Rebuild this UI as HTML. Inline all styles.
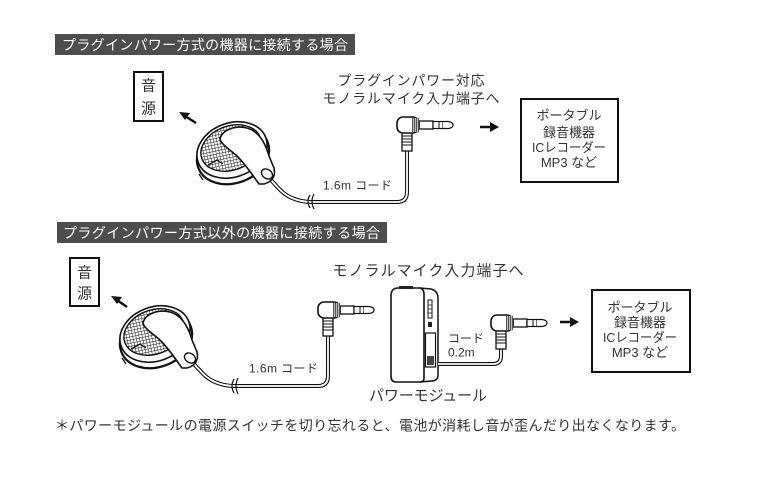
<!DOCTYPE html>
<html><head><meta charset="utf-8"><style>
html,body{margin:0;padding:0;background:#fff;}
svg{display:block;}
text{font-family:"Liberation Sans","Noto Sans CJK JP",sans-serif;}
</style></head><body>
<svg width="767" height="478" viewBox="0 0 767 478" xmlns="http://www.w3.org/2000/svg">
<defs>
<pattern id="grid" width="3.1" height="3.1" patternUnits="userSpaceOnUse" patternTransform="rotate(8)">
<rect width="3.1" height="3.1" fill="#fff"/>
<path d="M0,0 L0,3.1 M0,0 L3.1,0" stroke="#222" stroke-width="1"/>
</pattern>
<g id="mic">
<ellipse cx="156" cy="339" rx="37" ry="28" transform="rotate(-20 156 339)" fill="#fff" stroke="#111" stroke-width="2.2"/>
<path d="M122,358 L126,364" stroke="#111" stroke-width="1.3"/>
<ellipse cx="155" cy="334" rx="36" ry="27" transform="rotate(-20 155 334)" fill="#fff" stroke="#111" stroke-width="1.6"/>
<ellipse cx="154" cy="332" rx="31" ry="22" transform="rotate(-20 154 332)" fill="url(#grid)" stroke="#111" stroke-width="1.4"/>
<path d="M131,349 L140,344 L146,348" fill="none" stroke="#111" stroke-width="1.3"/>
<path d="M143,323 C145,314 158,309 170,312 C181,315 188,326 192,340 L197,352 C199,360 195,366 187,368 L182,368 C176,360 170,350 160,340 C152,333 144,328 143,323 Z" fill="#fff" stroke="#111" stroke-width="1.6"/>
<ellipse cx="190" cy="358" rx="6" ry="4.5" transform="rotate(35 190 358)" fill="#fff" stroke="#111" stroke-width="1.4"/>
</g>
<g id="plug">
<rect x="22" y="4" width="14" height="8" fill="#fff" stroke="#111" stroke-width="1.3"/>
<rect x="36" y="4.5" width="10" height="7" fill="#fff" stroke="#111" stroke-width="1.2"/>
<path d="M46,4.5 L51,4.5 Q56,5 56,8 Q56,11 51,11.5 L46,11.5" fill="#fff" stroke="#111" stroke-width="1.2"/>
<line x1="42" y1="4.5" x2="42" y2="11.5" stroke="#111" stroke-width="1"/>
<rect x="5" y="14" width="10" height="20" fill="#fff" stroke="#111" stroke-width="1.3"/>
<path d="M5,19 H15 M5,22 H15 M5,25 H15 M5,28 H15" stroke="#111" stroke-width="1"/>
<rect x="0" y="0" width="22" height="16" rx="6" fill="#fff" stroke="#111" stroke-width="1.6"/>
<rect x="15" y="0.8" width="7" height="14.4" fill="#555"/>
<path d="M16.5,1 V15 M18.5,1 V15 M20.5,1 V15" stroke="#fff" stroke-width="0.6"/>
</g>
</defs>

<!-- Section 1 header -->
<rect x="55" y="34" width="300" height="21" fill="#4d4d4d"/>
<text x="62" y="49.8" font-size="14" fill="#fff" textLength="286" lengthAdjust="spacing">プラグインパワー方式の機器に接続する場合</text>

<!-- 音源 box 1 -->
<rect x="134" y="72" width="29" height="49" fill="#fff" stroke="#111" stroke-width="2"/>
<text x="148.5" y="90.7" font-size="15" fill="#333" text-anchor="middle">音</text>
<text x="148.5" y="113.7" font-size="15" fill="#333" text-anchor="middle">源</text>

<!-- arrow up-left 1 -->
<line x1="196" y1="123" x2="185" y2="116" stroke="#111" stroke-width="2.5"/>
<polygon points="179,112 190,113 185,120" fill="#111"/>

<!-- mic 1 cable -->
<path d="M269,178 C277,186 282,194 292,198 C299,201 305,202 312,202 L397,202 Q407,202 407,192 L407,150" fill="none" stroke="#111" stroke-width="4"/>
<path d="M269,178 C277,186 282,194 292,198 C299,201 305,202 312,202 L397,202 Q407,202 407,192 L407,150" fill="none" stroke="#fff" stroke-width="1.8"/>
<path d="M310,195 Q306,201 310,208 M314,194 Q310,201 314,209" fill="none" stroke="#111" stroke-width="1.2"/>
<use href="#mic" transform="translate(77,-184)"/>
<use href="#plug" transform="translate(397,117)"/>

<text x="411" y="85.3" font-size="14" fill="#333" text-anchor="middle" textLength="147" lengthAdjust="spacing">プラグインパワー対応</text>
<text x="411" y="103.3" font-size="14" fill="#333" text-anchor="middle" textLength="177" lengthAdjust="spacing">モノラルマイク入力端子へ</text>
<text x="323" y="189.5" font-size="12" fill="#333" textLength="69" lengthAdjust="spacing">1.6m コード</text>

<!-- arrow right 1 -->
<line x1="480" y1="127" x2="492" y2="127" stroke="#111" stroke-width="2.5"/>
<polygon points="490,122 499,127 490,132" fill="#111"/>

<!-- box 1 -->
<rect x="521" y="99" width="97" height="83" fill="#fff" stroke="#111" stroke-width="2"/>
<text x="569" y="120" font-size="13" fill="#333" text-anchor="middle">ポータブル</text>
<text x="569" y="137" font-size="13" fill="#333" text-anchor="middle">録音機器</text>
<text x="569" y="152" font-size="13" fill="#333" text-anchor="middle" textLength="74" lengthAdjust="spacingAndGlyphs">ICレコーダー</text>
<text x="569" y="167" font-size="13" fill="#333" text-anchor="middle">MP3 など</text>

<!-- Section 2 header -->
<rect x="57" y="222" width="330" height="21" fill="#4d4d4d"/>
<text x="63" y="237.8" font-size="14" fill="#fff" textLength="317" lengthAdjust="spacing">プラグインパワー方式以外の機器に接続する場合</text>

<!-- 音源 box 2 -->
<rect x="70" y="258" width="29" height="48" fill="#fff" stroke="#111" stroke-width="2"/>
<text x="84.5" y="277.7" font-size="15" fill="#333" text-anchor="middle">音</text>
<text x="84.5" y="298.7" font-size="15" fill="#333" text-anchor="middle">源</text>

<!-- arrow up-left 2 -->
<line x1="127" y1="307" x2="117" y2="300" stroke="#111" stroke-width="2.5"/>
<polygon points="111,296 122,297 117,304" fill="#111"/>

<!-- mic 2 cable -->
<path d="M192,362 C200,370 205,378 215,382 C222,385 228,386 235,386 L318,386 Q328,386 328,376 L328,335" fill="none" stroke="#111" stroke-width="4"/>
<path d="M192,362 C200,370 205,378 215,382 C222,385 228,386 235,386 L318,386 Q328,386 328,376 L328,335" fill="none" stroke="#fff" stroke-width="1.8"/>
<path d="M234,379 Q230,386 234,393 M238,378 Q234,386 238,394" fill="none" stroke="#111" stroke-width="1.2"/>
<use href="#mic"/>
<use href="#plug" transform="translate(318,302)"/>
<text x="249" y="372.5" font-size="12" fill="#333" textLength="69" lengthAdjust="spacing">1.6m コード</text>

<text x="428" y="275.7" font-size="15" fill="#333" text-anchor="middle" textLength="191" lengthAdjust="spacing">モノラルマイク入力端子へ</text>

<!-- power module -->
<path d="M420,288 L431,289 Q438,291 438,298 L438,375 Q438,381 431,381 L420,382 Z" fill="#fff" stroke="#111" stroke-width="1.5"/>
<path d="M391,296 Q391,288 398,288 L420,288 Q424,289 424,294 L424,378 Q424,382 420,382 L396,382 Q391,382 391,376 Z" fill="#fff" stroke="#111" stroke-width="1.6"/>
<rect x="399" y="286" width="14" height="3" fill="#222"/>
<rect x="428" y="300" width="4" height="18" fill="#fff" stroke="#111" stroke-width="1"/>
<path d="M428,305 H432 M428,309 H432 M428,313 H432" stroke="#111" stroke-width="0.8"/>
<rect x="428" y="322" width="4" height="5" fill="#222"/>
<rect x="425.5" y="333" width="10" height="34" fill="#fff" stroke="#111" stroke-width="1.2"/>
<rect x="427" y="356" width="7" height="9" fill="#444"/>

<!-- module cable + plug 3 -->
<path d="M438,364 L493,364 Q501,364 501,356 L501,347" fill="none" stroke="#111" stroke-width="4"/>
<path d="M438,364 L493,364 Q501,364 501,356 L501,347" fill="none" stroke="#fff" stroke-width="1.8"/>
<use href="#plug" transform="translate(491,315)"/>
<text x="448" y="342.5" font-size="12" fill="#333">コード</text>
<text x="448" y="356.5" font-size="12" fill="#333">0.2m</text>

<text x="428" y="400.7" font-size="15" fill="#333" text-anchor="middle" textLength="118" lengthAdjust="spacing">パワーモジュール</text>

<!-- arrow right 3 -->
<line x1="560" y1="322" x2="572" y2="322" stroke="#111" stroke-width="2.5"/>
<polygon points="570,317 579,322 570,327" fill="#111"/>

<!-- box 3 -->
<rect x="592" y="290" width="98" height="82" fill="#fff" stroke="#111" stroke-width="2"/>
<text x="640" y="312" font-size="13" fill="#333" text-anchor="middle">ポータブル</text>
<text x="640" y="327" font-size="13" fill="#333" text-anchor="middle">録音機器</text>
<text x="640" y="342" font-size="13" fill="#333" text-anchor="middle" textLength="74" lengthAdjust="spacingAndGlyphs">ICレコーダー</text>
<text x="640" y="357" font-size="13" fill="#333" text-anchor="middle">MP3 など</text>

<!-- footnote -->
<text x="55" y="430.3" font-size="14" fill="#333" textLength="630" lengthAdjust="spacing">＊パワーモジュールの電源スイッチを切り忘れると、電池が消耗し音が歪んだり出なくなります。</text>
</svg>
</body></html>
